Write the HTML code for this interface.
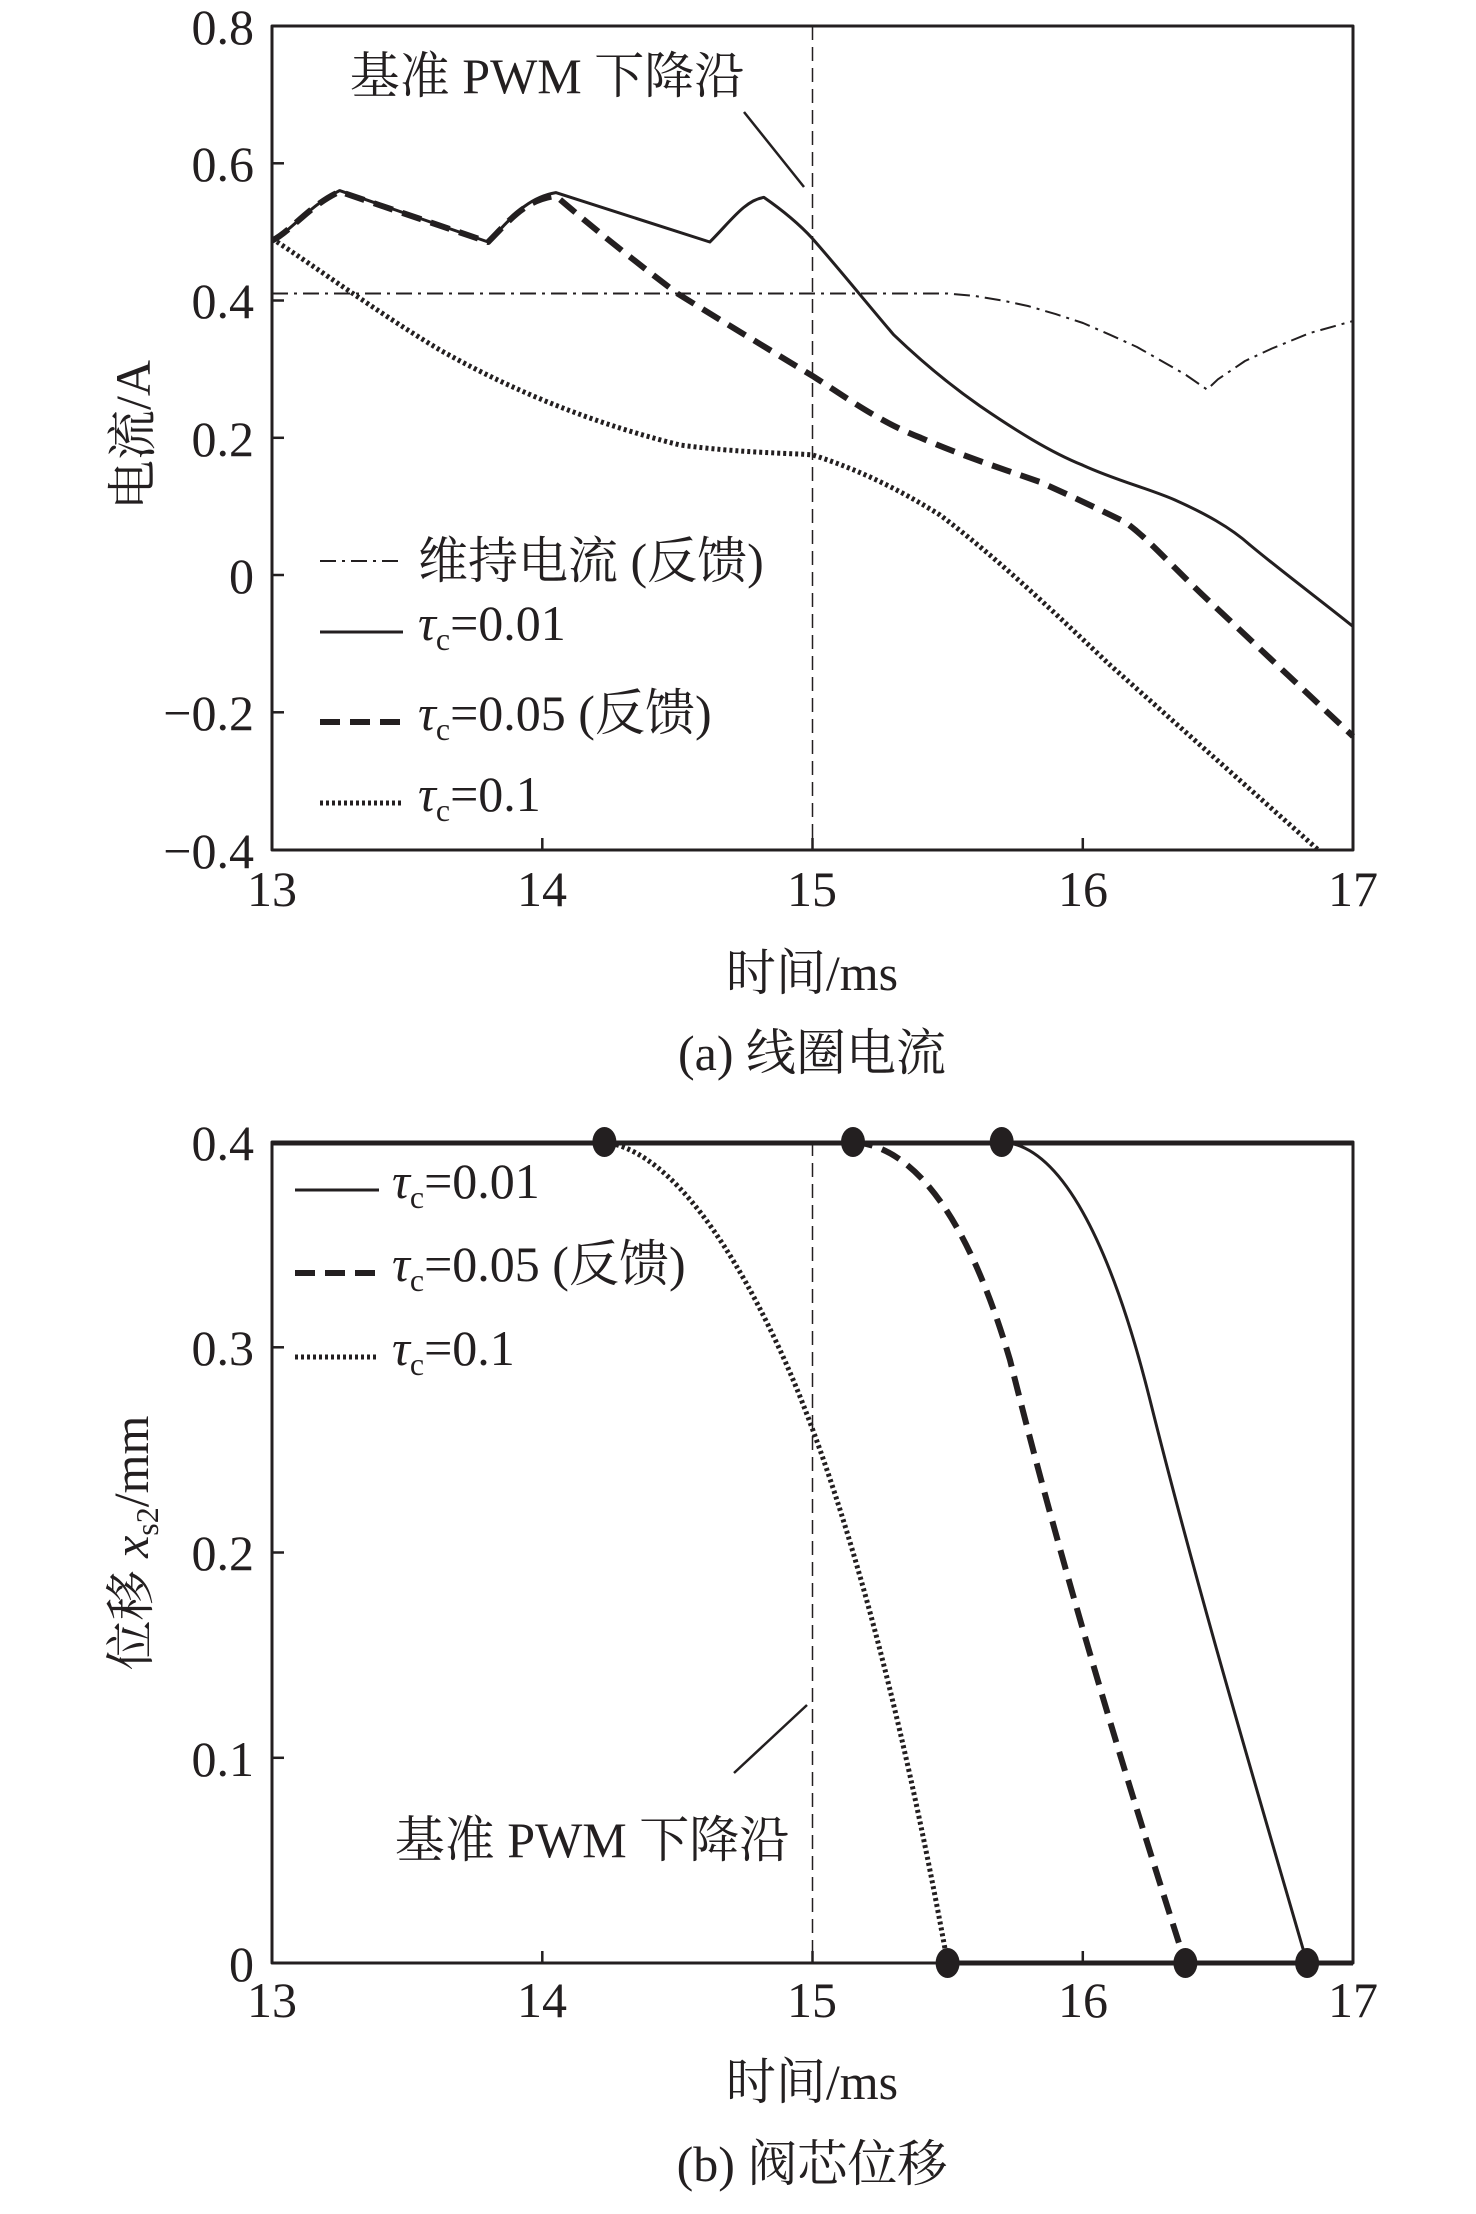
<!DOCTYPE html>
<html><head><meta charset="utf-8"><style>
html,body{margin:0;padding:0;background:#fff}
svg text{font-family:"Liberation Serif","Noto Serif CJK SC",serif;fill:#231f20}
</style></head><body>
<svg width="1476" height="2209" viewBox="0 0 1476 2209" xmlns="http://www.w3.org/2000/svg">
<g fill="none" stroke="#231f20" stroke-linejoin="round">
<!-- TOP PLOT -->
<rect x="272" y="26" width="1081" height="824" stroke-width="3"/>
<g stroke-width="2.5">
<line x1="272" y1="163.3" x2="284" y2="163.3"/><line x1="272" y1="300.5" x2="284" y2="300.5"/><line x1="272" y1="437.8" x2="284" y2="437.8"/><line x1="272" y1="575" x2="284" y2="575"/><line x1="272" y1="712.3" x2="284" y2="712.3"/>
<line x1="542.3" y1="850" x2="542.3" y2="838"/><line x1="812.5" y1="850" x2="812.5" y2="838"/><line x1="1082.8" y1="850" x2="1082.8" y2="838"/>
</g>
<line x1="812.5" y1="26" x2="812.5" y2="850" stroke-width="1.5" stroke-dasharray="14,7"/>
<line x1="744" y1="112" x2="804" y2="187" stroke-width="2.5"/>
<polyline stroke-width="2" stroke-dasharray="16,6,3,6" points="272,293.5 947.6,293.5 975,296 1001.7,300.4 1028,306 1055.7,314.1 1083,323 1109.8,334.7 1137,347 1163.8,362.2 1186,375 1207.1,389.6 1217.9,379.3 1245,361 1271.9,348.5 1310,333 1353,321"/>
<path stroke-width="3" d="M272,240.7 C290,232 310,205 339.6,190.6 L488.2,242 C510,220 525,198 555.8,192.6 L709.8,242 C730,222 745,200 763.9,197.4 C785,212 800,225 812.5,238.6 C840,270 860,295 893.6,334.7 C920,360 947,383 980,406 C1015,430 1050,452 1082.8,465.2 C1115,480 1150,489 1175,500 C1204,513 1230,527 1250,545 C1280,570 1320,600 1353,626.5"/>
<path stroke-width="6" stroke-dasharray="20,10" d="M272,240.7 C290,232 310,205 339.6,191.6 L488.2,242 C510,220 525,200 555.8,196 C590,225 620,250 677.4,293.5 C720,320 770,350 812.5,375.9 C850,400 880,422 920.6,437.7 C960,455 1000,468 1040,482 C1080,500 1100,510 1125,522 C1150,540 1170,565 1217.9,609.3 L1353,736.3"/>
<path stroke-width="5" stroke-dasharray="3,3" d="M272,238.6 C320,270 380,314 440,350 C520,395 600,425 680,445 C740,453 790,453 812.5,454.9 C860,470 900,490 940,515 C1000,560 1060,618 1110,665 L1317.9,849.6"/>
<line x1="320" y1="561" x2="403" y2="561" stroke-width="2" stroke-dasharray="16,6,3,6"/>
<line x1="320" y1="632" x2="403" y2="632" stroke-width="3"/>
<line x1="320" y1="722" x2="403" y2="722" stroke-width="6" stroke-dasharray="20,10"/>
<line x1="320" y1="803" x2="403" y2="803" stroke-width="5" stroke-dasharray="3,3"/>

<!-- BOTTOM PLOT -->
<rect x="272" y="1142" width="1081" height="821" stroke-width="3"/>
<g stroke-width="2.5">
<line x1="272" y1="1347.3" x2="284" y2="1347.3"/><line x1="272" y1="1552.5" x2="284" y2="1552.5"/><line x1="272" y1="1757.8" x2="284" y2="1757.8"/>
<line x1="542.3" y1="1963" x2="542.3" y2="1951"/><line x1="812.5" y1="1963" x2="812.5" y2="1951"/><line x1="1082.8" y1="1963" x2="1082.8" y2="1951"/>
</g>
<line x1="812.5" y1="1142" x2="812.5" y2="1963" stroke-width="1.5" stroke-dasharray="14,7"/>
<line x1="734" y1="1773" x2="807" y2="1705" stroke-width="2.5"/>
<line x1="272" y1="1143" x2="1353" y2="1143" stroke-width="5"/>
<line x1="947.6" y1="1963" x2="1353" y2="1963" stroke-width="5"/>
<path stroke-width="3" d="M1001.7,1142 C1060,1145 1110,1240 1150,1400 C1200,1600 1260,1800 1307.1,1963"/>
<path stroke-width="6" stroke-dasharray="20,10" d="M853,1142 C900,1145 960,1190 1010,1360 C1060,1560 1120,1760 1185.4,1963"/>
<path stroke-width="5" stroke-dasharray="3,3" d="M604.4,1142 C660,1150 720,1220 780,1350 C840,1480 900,1700 947.6,1963"/>
<line x1="295" y1="1190" x2="379" y2="1190" stroke-width="3"/>
<line x1="295" y1="1273" x2="379" y2="1273" stroke-width="6" stroke-dasharray="20,10"/>
<line x1="295" y1="1357" x2="379" y2="1357" stroke-width="5" stroke-dasharray="3,3"/>
</g>
<g fill="#231f20">
<ellipse cx="604.4" cy="1142" rx="12" ry="15"/><ellipse cx="853" cy="1142" rx="12" ry="15"/><ellipse cx="1001.7" cy="1142" rx="12" ry="15"/>
<ellipse cx="947.6" cy="1963" rx="12" ry="15"/><ellipse cx="1185.4" cy="1963" rx="12" ry="15"/><ellipse cx="1307.1" cy="1963" rx="12" ry="15"/>
</g>

<g font-size="50" text-anchor="end">
<text x="254" y="44">0.8</text><text x="254" y="181">0.6</text><text x="254" y="318">0.4</text><text x="254" y="456">0.2</text><text x="254" y="593">0</text><text x="254" y="730">−0.2</text><text x="254" y="868">−0.4</text>
</g>
<g font-size="50" text-anchor="middle">
<text x="272" y="906">13</text><text x="542" y="906">14</text><text x="812" y="906">15</text><text x="1083" y="906">16</text><text x="1353" y="906">17</text>
<text x="812" y="990">时间/ms</text>
<text x="812" y="1070">(a) 线圈电流</text>
<text x="547" y="93" font-size="50">基准 PWM 下降沿</text>
</g>
<text transform="translate(150,435) rotate(-90)" font-size="50" text-anchor="middle">电流/A</text>
<g font-size="50">
<text x="418" y="578">维持电流 (反馈)</text>
<text x="418" y="640"><tspan font-style="italic">τ</tspan><tspan font-size="32" dy="10">c</tspan><tspan dy="-10">=0.01</tspan></text>
<text x="418" y="730"><tspan font-style="italic">τ</tspan><tspan font-size="32" dy="10">c</tspan><tspan dy="-10">=0.05 (反馈)</tspan></text>
<text x="418" y="811"><tspan font-style="italic">τ</tspan><tspan font-size="32" dy="10">c</tspan><tspan dy="-10">=0.1</tspan></text>
</g>

<g font-size="50" text-anchor="end">
<text x="254" y="1160">0.4</text><text x="254" y="1365">0.3</text><text x="254" y="1570">0.2</text><text x="254" y="1776">0.1</text><text x="254" y="1981">0</text>
</g>
<g font-size="50" text-anchor="middle">
<text x="272" y="2017">13</text><text x="542" y="2017">14</text><text x="812" y="2017">15</text><text x="1083" y="2017">16</text><text x="1353" y="2017">17</text>
<text x="812" y="2099">时间/ms</text>
<text x="812" y="2181">(b) 阀芯位移</text>
<text x="592" y="1857" font-size="50">基准 PWM 下降沿</text>
</g>
<text transform="translate(148,1543) rotate(-90)" font-size="50" text-anchor="middle">位移 <tspan font-style="italic">x</tspan><tspan font-size="32" dy="10">s2</tspan><tspan dy="-10">/mm</tspan></text>
<g font-size="50">
<text x="392" y="1198"><tspan font-style="italic">τ</tspan><tspan font-size="32" dy="10">c</tspan><tspan dy="-10">=0.01</tspan></text>
<text x="392" y="1281"><tspan font-style="italic">τ</tspan><tspan font-size="32" dy="10">c</tspan><tspan dy="-10">=0.05 (反馈)</tspan></text>
<text x="392" y="1365"><tspan font-style="italic">τ</tspan><tspan font-size="32" dy="10">c</tspan><tspan dy="-10">=0.1</tspan></text>
</g>
</svg>
</body></html>
